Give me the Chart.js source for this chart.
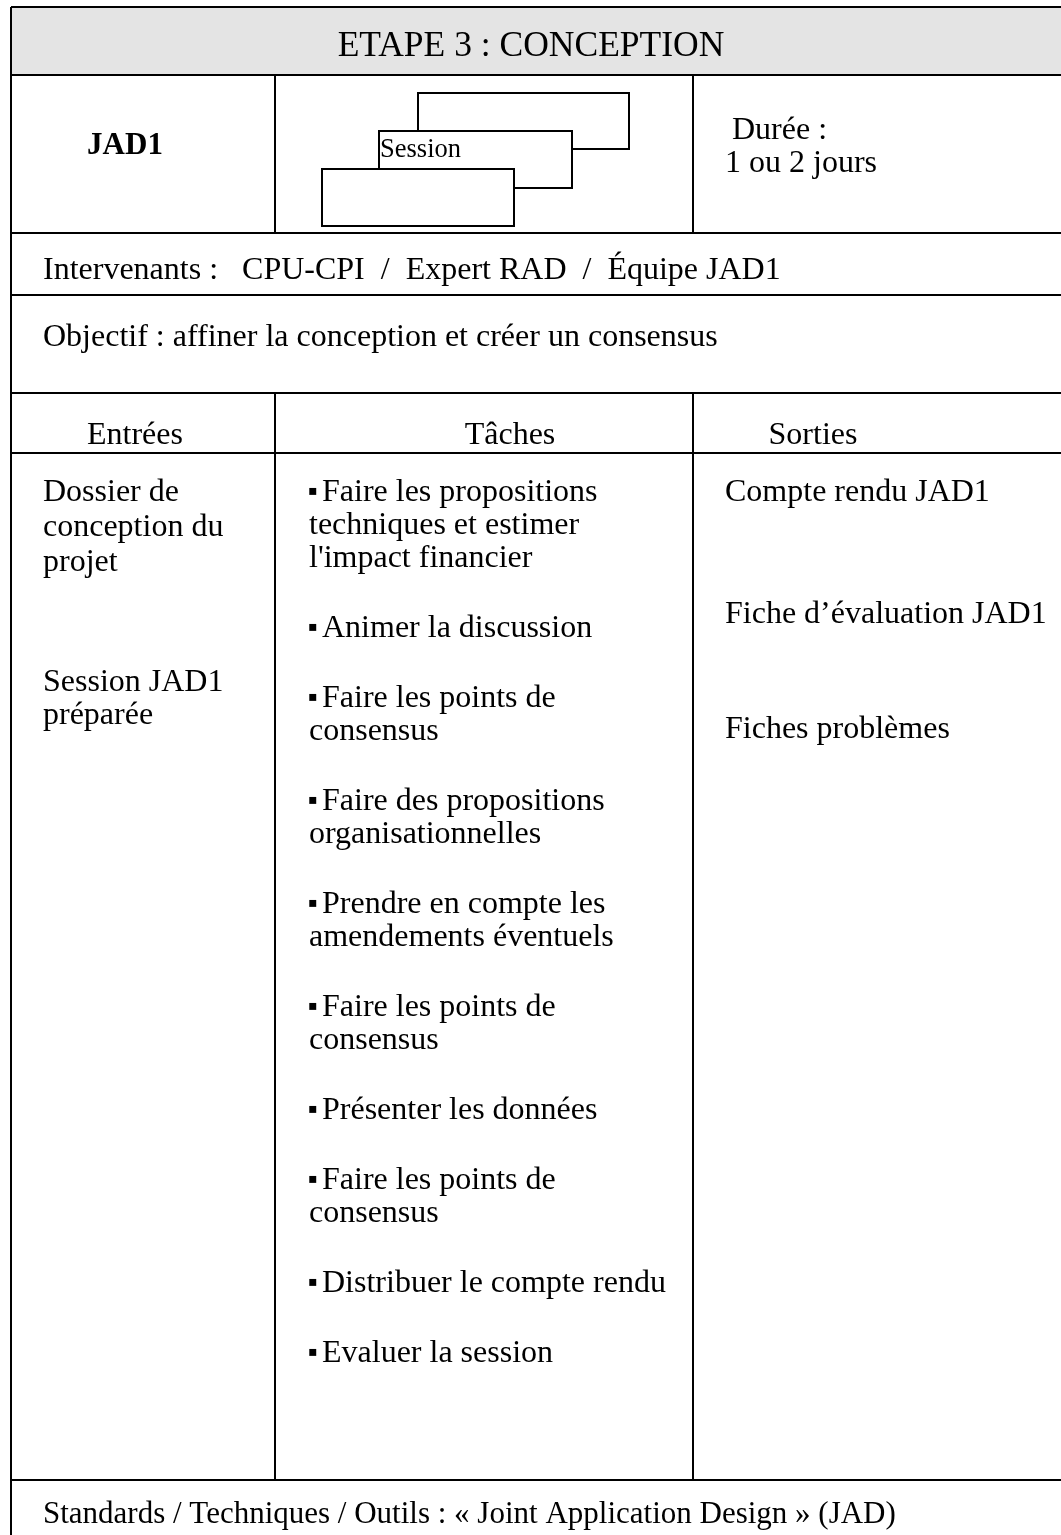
<!DOCTYPE html>
<html>
<head>
<meta charset="utf-8">
<script src="https://cdn.jsdelivr.net/npm/chart.js@4/dist/chart.umd.min.js"></script>
<style>
body{margin:0;background:#fff;}
canvas{display:block;}
</style>
</head>
<body>
<canvas id="sheet" width="1061" height="1535"></canvas>
<script>
// fiche contents
var stepTitle = "ETAPE 3 : CONCEPTION";
var stepName = "JAD1";
var iconLabel = "Session";
var duration = ["Durée :", "1 ou 2 jours"];
var intervenants = ["CPU-CPI", "Expert RAD", "Équipe JAD1"];
var objectif = "affiner la conception et créer un consensus";
var columnTitles = ["Entrées", "Tâches", "Sorties"];
var entrees = [
	["Dossier de", "conception du", "projet"],
	["Session JAD1", "préparée"]
];
var taches = [
	["Faire les propositions", "techniques et estimer", "l'impact financier"],
	["Animer la discussion"],
	["Faire les points de", "consensus"],
	["Faire des propositions", "organisationnelles"],
	["Prendre en compte les", "amendements éventuels"],
	["Faire les points de", "consensus"],
	["Présenter les données"],
	["Faire les points de", "consensus"],
	["Distribuer le compte rendu"],
	["Evaluer la session"]
];
var sorties = [["Compte rendu JAD1"], ["Fiche d’évaluation JAD1"], ["Fiches problèmes"]];
var standards = "« Joint Application Design » (JAD)";

// layout (pixel units of the x / y scales)
var serif = "'Liberation Serif', 'Times New Roman', serif";
var body = "32px " + serif;
var rows = [7, 75, 233, 295, 393, 453, 1480, 1560];
var cols = [11, 275, 693, 1064];
var lineH = 33, itemGap = 37;
var entreesTop = [493, 683];
var sortiesTop = [493, 615, 730];

var labels = [];
function addLabel(x, y, text, font, align){
	labels.push({x: x, y: y, text: text, font: font || body, align: align || 'left'});
}

addLabel(531, 47, stepTitle, "35.5px " + serif, 'center');
addLabel(125, 146, stepName, "bold 31px " + serif, 'center');
addLabel(380, 150, iconLabel, "26.5px " + serif);
addLabel(732, 131, duration[0]);
addLabel(725, 164, duration[1]);
addLabel(43, 271, "Intervenants :   " + intervenants.join("  /  "));
addLabel(43, 338, "Objectif : " + objectif);
addLabel(135, 436, columnTitles[0], body, 'center');
addLabel(510, 436, columnTitles[1], body, 'center');
addLabel(813, 436, columnTitles[2], body, 'center');

entrees.forEach(function(item, i){
	item.forEach(function(line, j){
		addLabel(43, entreesTop[i] + j * (i == 0 ? 35 : lineH), line);
	});
});

var y = 493;
taches.forEach(function(item){
	item.forEach(function(line, j){
		if(j == 0){
			addLabel(308, y, "\u25AA", "28px " + serif);
			addLabel(322, y, line);
		}else{
			addLabel(309, y, line);
		}
		y += lineH;
	});
	y += itemGap;
});

sorties.forEach(function(item, i){
	item.forEach(function(line, j){
		addLabel(725, sortiesTop[i] + j * lineH, line);
	});
});

addLabel(43, 1515, "Standards / Techniques / Outils : " + standards, "31px " + serif);

// table frame, drawn under the text
var framePlugin = {
	id: 'frame',
	beforeDatasetsDraw: function(chart){
		var ctx = chart.ctx;
		var sx = chart.scales.x, sy = chart.scales.y;
		function px(v){ return sx.getPixelForValue(v); }
		function py(v){ return sy.getPixelForValue(v); }
		ctx.save();
		ctx.fillStyle = '#e4e4e4';
		ctx.fillRect(px(cols[0]), py(rows[0]), px(cols[3]) - px(cols[0]), py(rows[1]) - py(rows[0]));
		ctx.strokeStyle = '#000';
		ctx.lineWidth = 2;
		ctx.beginPath();
		rows.forEach(function(r){
			ctx.moveTo(px(cols[0]), py(r));
			ctx.lineTo(px(cols[3]), py(r));
		});
		ctx.moveTo(px(cols[0]), py(rows[0]));
		ctx.lineTo(px(cols[0]), py(rows[7]));
		ctx.moveTo(px(cols[3]), py(rows[0]));
		ctx.lineTo(px(cols[3]), py(rows[7]));
		// inner dividers: second row and the entrées/tâches/sorties block
		[[1, 2], [4, 6]].forEach(function(span){
			[cols[1], cols[2]].forEach(function(c){
				ctx.moveTo(px(c), py(rows[span[0]]));
				ctx.lineTo(px(c), py(rows[span[1]]));
			});
		});
		ctx.stroke();
		// the stacked "Session" cards
		[[418, 93, 629, 149], [379, 131, 572, 188], [322, 169, 514, 226]].forEach(function(b){
			var x0 = px(b[0]), y0 = py(b[1]), x1 = px(b[2]), y1 = py(b[3]);
			ctx.fillStyle = '#fff';
			ctx.fillRect(x0, y0, x1 - x0, y1 - y0);
			ctx.strokeRect(x0, y0, x1 - x0, y1 - y0);
		});
		ctx.restore();
	}
};

// text drawn at each point of the dataset
var textPlugin = {
	id: 'texts',
	afterDatasetsDraw: function(chart){
		var ctx = chart.ctx;
		var meta = chart.getDatasetMeta(0);
		ctx.save();
		ctx.fillStyle = '#000';
		ctx.textBaseline = 'middle';
		meta.data.forEach(function(pt, i){
			var l = labels[i];
			ctx.font = l.font;
			ctx.textAlign = l.align;
			ctx.fillText(l.text, pt.x, pt.y);
		});
		ctx.restore();
	}
};

new Chart(document.getElementById('sheet').getContext('2d'), {
	type: 'scatter',
	data: {
		datasets: [{
			data: labels.map(function(l){ return {x: l.x, y: l.y}; }),
			pointRadius: 0,
			pointHoverRadius: 0
		}]
	},
	options: {
		responsive: false,
		animation: false,
		devicePixelRatio: 1,
		layout: {padding: 0},
		events: [],
		plugins: {legend: {display: false}, tooltip: {enabled: false}},
		scales: {
			x: {type: 'linear', min: 0, max: 1061, display: false},
			y: {type: 'linear', min: 0, max: 1535, reverse: true, display: false}
		}
	},
	plugins: [framePlugin, textPlugin]
});
</script>
</body>
</html>
